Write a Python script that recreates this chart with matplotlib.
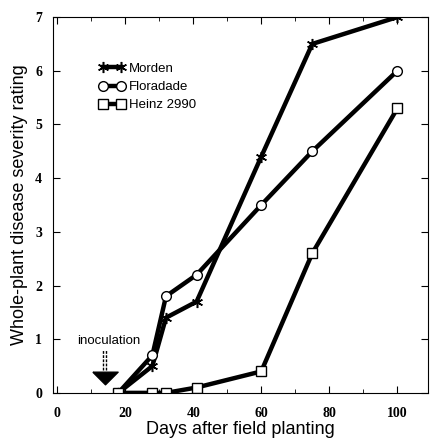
import numpy as np
from matplotlib import pyplot as plt
from matplotlib.ticker import MultipleLocator

days = [18, 28, 32, 41, 60, 75, 100]
morden = [0, 0.5, 1.4, 1.7, 4.4, 6.5, 7.0]
floradade = [0, 0.7, 1.8, 2.2, 3.5, 4.5, 6.0]
heinz = [0, 0, 0, 0.1, 0.4, 2.6, 5.3]
names = ["Morden", "Floradade", "Heinz 2990"]
inoc_day = 14

plt.rcParams['font.family'] = 'Liberation Sans'

fig = plt.figure(figsize=(4.31, 4.38), dpi=100)
ax = fig.add_axes([0.123, 0.103, 0.870, 0.858])

ax.plot(days, morden, color='k', lw=3.2, marker=(6, 2, 0), ms=8,
        mew=1.1, mec='k', label=names[0])
ax.plot(days, floradade, color='k', lw=3.2, marker='o', ms=7,
        mew=1.0, mfc='w', mec='k', label=names[1])
ax.plot(days, heinz, color='k', lw=3.2, marker='s', ms=7,
        mew=1.0, mfc='w', mec='k', label=names[2])

# inoculation arrow
ax.text(inoc_day + 1.3, 0.97, "inoculation", ha='center', va='center', fontsize=9.5)
ax.plot([inoc_day - 0.4] * 2, [0.42, 0.8], color='k', lw=1.0, ls=(0, (2, 1)))
ax.plot([inoc_day + 0.4] * 2, [0.42, 0.8], color='k', lw=1.0, ls=(0, (2, 1)))
tri = [(-1.0, 0.5), (1.0, 0.5), (0.0, -0.5), (-1.0, 0.5)]
ax.scatter([inoc_day], [0.27], marker=tri, s=330, color='k', zorder=5)

ax.set_xlim(-1.2, 109)
ax.set_ylim(0, 7)
ax.xaxis.set_major_locator(MultipleLocator(20))
ax.xaxis.set_minor_locator(MultipleLocator(10))
ax.yaxis.set_major_locator(MultipleLocator(1))
ax.tick_params(which='both', direction='in', top=True, right=True,
               labelright=False)
ax.tick_params(which='major', length=5)
ax.tick_params(which='minor', length=3)
ax.tick_params(axis='x', pad=10)
ax.tick_params(axis='y', pad=8)
for lab in ax.get_xticklabels() + ax.get_yticklabels():
    lab.set_fontfamily('Liberation Serif')
    lab.set_fontweight('bold')
    lab.set_fontsize(10)

ax.set_xlabel("Days after field planting", fontsize=13, labelpad=1)
ax.set_ylabel("Whole-plant disease severity rating", fontsize=13, labelpad=5)

leg = ax.legend(loc='upper left', bbox_to_anchor=(0.09, 0.91), frameon=False,
                numpoints=2, handlelength=2.0, fontsize=9.5,
                handletextpad=0.3, labelspacing=0.45)

fig.savefig("out.png", dpi=100)
